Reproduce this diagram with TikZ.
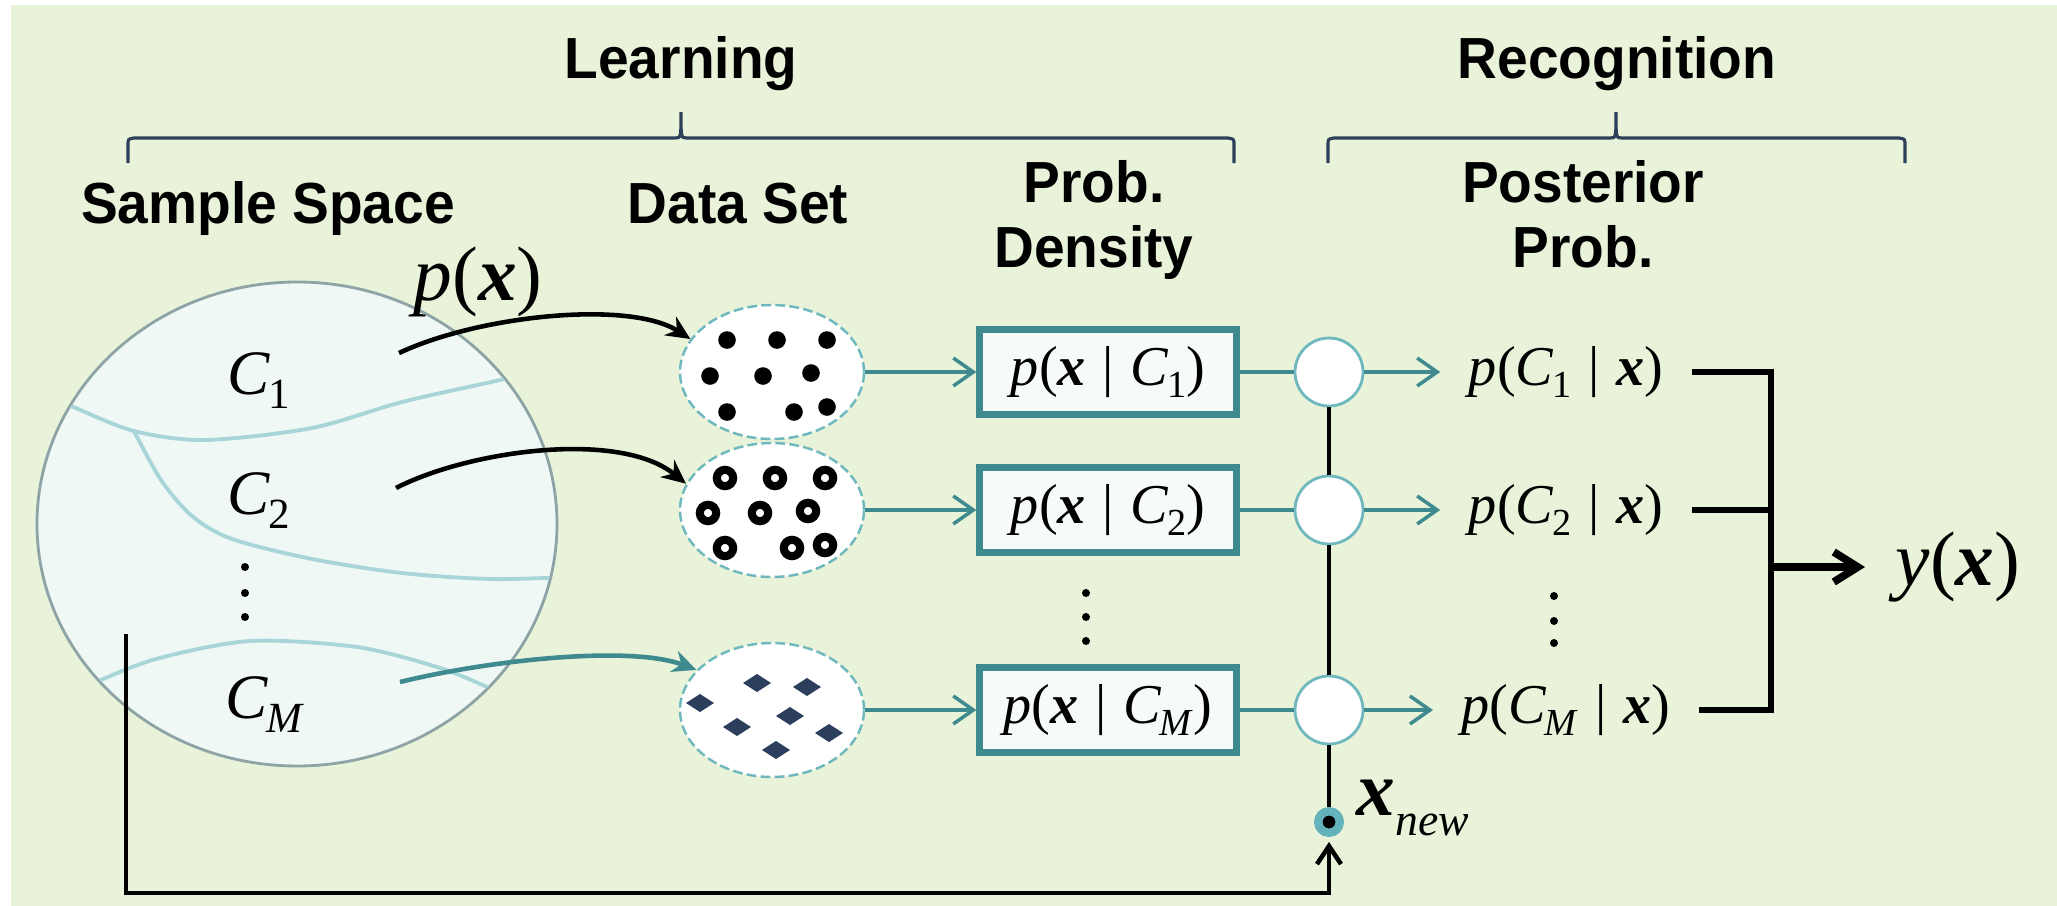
\documentclass[tikz,border=0pt]{standalone}
\usepackage{fontspec}
\setmainfont{Liberation Serif}
\newfontfamily\headfont[FakeStretch=0.95]{Liberation Sans}
\usepackage{graphicx}
\usetikzlibrary{arrows.meta,shapes.geometric}

\definecolor{bggreen}{RGB}{232,243,218}
\definecolor{tealdark}{RGB}{62,138,142}
\definecolor{tealmid}{RGB}{100,178,188}
\definecolor{teallight}{RGB}{110,184,190}
\definecolor{boundary}{RGB}{168,214,216}
\definecolor{slate}{RGB}{45,64,89}
\definecolor{navy}{RGB}{43,62,92}
\definecolor{spacefill}{RGB}{240,248,246}
\definecolor{spaceedge}{RGB}{142,163,166}
\definecolor{boxfill}{RGB}{246,250,249}

% bold vector x, lowered index, class symbol and conditioning bar
\newcommand{\vx}{\textbf{\textit{x}}}
\newcommand{\lo}[1]{\raisebox{-0.5ex}{\scalebox{0.68}{#1}}}
\newcommand{\cl}[1]{\textit{C}\kern-0.03em\lo{#1}}
\newcommand{\gv}{\hspace{0.3em}|\hspace{0.3em}}

\tikzset{
  stagehead/.style={font=\headfont\bfseries\fontsize{16.5}{18}\selectfont,anchor=base,inner sep=0pt},
  bracketline/.style={draw=slate,line width=0.9pt},
  region/.style={draw=boundary,line width=1.1pt},
  clabel/.style={font=\fontsize{18}{18}\selectfont,anchor=base west,inner sep=0pt},
  dataset/.style={ellipse,draw=teallight,fill=white,dash pattern=on 2.8pt off 1.2pt,line width=0.7pt,
    minimum width=1.84cm,minimum height=1.34cm,inner sep=0pt},
  density/.style={draw=tealdark,fill=boxfill,line width=1.8pt,minimum width=2.57cm,
    minimum height=0.85cm,inner sep=0pt,font=\fontsize{16}{16}\selectfont},
  joint/.style={circle,draw=teallight,fill=white,line width=0.8pt,minimum size=0.68cm,inner sep=0pt},
  posterior/.style={font=\fontsize{16}{16}\selectfont,inner sep=0.28cm},
  flow/.style={draw=tealdark,line width=1pt,-{Straight Barb[length=2mm,width=2.8mm]}},
  tealline/.style={draw=tealdark,line width=1pt},
  pickarrow/.style={line width=1.3pt,-{Stealth[length=2.4mm,width=2.2mm]}},
}

\begin{document}
\begin{tikzpicture}
\useasboundingbox (0,0) rectangle (20.57,-9.06);
\fill[bggreen] (0.11,-0.05) rectangle (20.57,-9.06);

% stages with their brackets
\node[stagehead] (learn) at (6.81,-0.78) {Learning};
\node[stagehead] (recog) at (16.17,-0.78) {Recognition};
\foreach \l/\m/\r in {1.28/6.81/12.34, 13.28/16.16/19.05}
  \draw[bracketline] (\l,-1.63) -- (\l,-1.45) .. controls (\l,-1.39) .. (\l+0.06,-1.38)
    -- (\m-0.06,-1.38) .. controls (\m,-1.38) .. (\m,-1.12) .. controls (\m,-1.38) .. (\m+0.06,-1.38)
    -- (\r-0.06,-1.38) .. controls (\r,-1.39) .. (\r,-1.45) -- (\r,-1.63);

% column titles
\node[stagehead] (sspace) at (2.68,-2.23) {Sample Space};
\node[stagehead] (dset) at (7.38,-2.23) {Data Set};
\node[stagehead] (pdtop) at (10.94,-2.02) {Prob.};
\node[stagehead] (pdbot) at (10.94,-2.67) {Density};
\node[stagehead] (pptop) at (15.83,-2.02) {Posterior};
\node[stagehead] (ppbot) at (15.83,-2.67) {Prob.};

% sample space split into classes
\node[ellipse,draw=spaceedge,fill=spacefill,line width=0.8pt,minimum width=5.2cm,minimum height=4.84cm] (space) at (2.97,-5.24) {};
\begin{scope}
  \clip (space.center) ellipse (2.59 and 2.41);
  \draw[region] plot[smooth] coordinates {(0.5,-3.97) (0.71,-4.06) (1.34,-4.31) (2.05,-4.40) (3.12,-4.28) (4.02,-4.02) (5.0,-3.80) (5.3,-3.72)};
  \draw[region] plot[smooth] coordinates {(1.34,-4.31) (1.61,-4.80) (1.92,-5.16) (2.32,-5.39) (3.12,-5.59) (4.02,-5.73) (4.91,-5.79) (5.7,-5.77)};
  \draw[region] plot[smooth] coordinates {(0.7,-6.95) (0.94,-6.83) (1.56,-6.59) (2.50,-6.41) (3.57,-6.47) (4.37,-6.67) (4.87,-6.87) (5.1,-7.0)};
\end{scope}
\node[clabel] (lc1) at (2.27,-3.94) {\cl{1}};
\node[clabel] (lc2) at (2.27,-5.14) {\cl{2}};
\node[clabel] (lcm) at (2.25,-7.18) {\cl{\textit{M}}};
\foreach \y in {5.67,5.93,6.17} \fill (2.45,-\y) circle (0.04);
\node[font=\fontsize{22}{22}\selectfont,anchor=base,inner sep=0pt] (px) at (4.78,-3.0) {\textit{p}(\vx)};

% data sets
\node[dataset] (dc1) at (7.72,-3.72) {};
\node[dataset] (dc2) at (7.72,-5.10) {};
\node[dataset] (dcm) at (7.72,-7.10) {};
\foreach \dx/\dy in {-0.45/0.32,0.05/0.32,0.55/0.32,-0.62/-0.04,-0.09/-0.04,0.39/-0.01,-0.45/-0.40,0.22/-0.40,0.55/-0.35}
  \fill ([shift={(\dx,\dy)}]dc1.center) circle (0.088);
\foreach \dx/\dy in {-0.47/0.32,0.03/0.32,0.53/0.32,-0.64/-0.03,-0.12/-0.03,0.36/-0.01,-0.47/-0.38,0.20/-0.38,0.53/-0.35}
  \draw[line width=2.3pt] ([shift={(\dx,\dy)}]dc2.center) circle (0.082);
\foreach \dx/\dy in {-0.15/0.27,0.35/0.23,-0.72/0.07,0.18/-0.06,-0.35/-0.17,0.57/-0.23,0.04/-0.40}
  \fill[navy] ([shift={(\dx,\dy)}]dcm.center) +(-0.14,0) -- +(0,0.09) -- +(0.14,0) -- +(0,-0.09) -- cycle;

\coordinate (s1) at (3.99,-3.53);
\coordinate (s2) at (3.96,-4.88);
\coordinate (sm) at (4.00,-6.82);
\draw[pickarrow] (s1) .. controls (4.8,-3.15) and (6.3,-3.0) .. (dc1.158);
\draw[pickarrow] (s2) .. controls (4.7,-4.5) and (6.2,-4.3) .. (dc2.163);
\draw[pickarrow,draw=tealdark] (sm) .. controls (4.9,-6.6) and (6.3,-6.45) .. (dcm.152);

% class densities
\node[density] (b1) at (11.08,-3.72) {\textit{p}(\vx\gv\cl{1})};
\node[density] (b2) at (11.08,-5.10) {\textit{p}(\vx\gv\cl{2})};
\node[density] (bm) at (11.08,-7.10) {\textit{p}(\vx\gv\cl{\textit{M}})};
\foreach \y in {5.93,6.17,6.41} \fill (10.86,-\y) circle (0.04);

% evaluation at the new point
\node[joint] (j1) at (13.29,-3.72) {};
\node[joint] (j2) at (13.29,-5.10) {};
\node[joint] (jm) at (13.29,-7.10) {};
\node[circle,fill=black,draw=tealmid,line width=2.4pt,minimum size=0.215cm,inner sep=0pt] (xnew) at (13.29,-8.22) {};
\node[anchor=base west,inner sep=0pt] (xlab) at (13.56,-8.15) {\fontsize{22}{22}\selectfont\vx\raisebox{-0.2cm}{\fontsize{13}{13}\selectfont\itshape new}};

% posteriors
\node[posterior] (q1) at (15.66,-3.72) {\textit{p}(\cl{1}\gv\vx)};
\node[posterior] (q2) at (15.66,-5.10) {\textit{p}(\cl{2}\gv\vx)};
\node[posterior] (qm) at (15.66,-7.10) {\textit{p}(\cl{\textit{M}}\gv\vx)};
\foreach \y in {5.96,6.21,6.43} \fill (15.54,-\y) circle (0.04);
\node[font=\fontsize{22}{22}\selectfont,inner sep=0.3cm] (yx) at (19.58,-5.67) {\textit{y}(\vx)};

\foreach \r in {1,2,m} {
  \draw[flow] (dc\r) -- (b\r);
  \draw[tealline] (b\r) -- (j\r);
  \draw[flow] (j\r) -- (q\r);
}
\draw[line width=0.9pt] (j1) -- (j2) (j2) -- (jm) (jm) -- (xnew);

\coordinate (fb) at (1.26,-6.34);
\coordinate (fbturn) at (1.26,-8.93);
\draw[line width=1.3pt,-{Straight Barb[length=1.8mm,width=2.4mm]},shorten >=0.05cm] (fb) -- (fbturn) -| (xnew);

\coordinate (jn) at (17.71,-5.67);
\draw[line width=1.6pt] (q1.east) -| (jn) |- (qm.east);
\draw[line width=1.6pt] (q2.east) -- (q2.east -| jn);
\draw[line width=2.2pt,-{Straight Barb[length=2.4mm,width=3mm]}] (jn) -- (jn -| yx.west);
\end{tikzpicture}
\end{document}
